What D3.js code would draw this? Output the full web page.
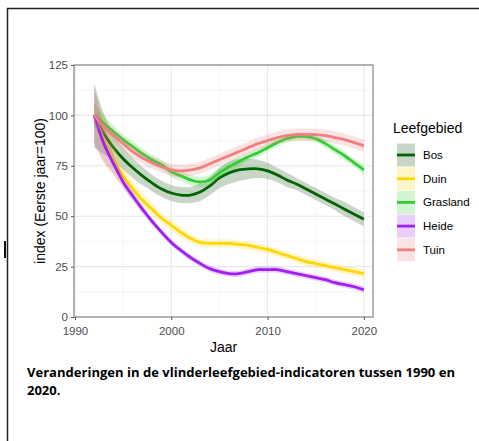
<!DOCTYPE html>
<html><head><meta charset="utf-8">
<script src="https://cdn.jsdelivr.net/npm/d3@7"></script>
<style>body{margin:0;background:#fff}svg{display:block}</style>
</head><body>
<script>
const years = d3.range(1992, 2021);
const seriesNames = ["Bos","Duin","Grasland","Heide","Tuin"];
const bos      = [100,91,84,78.5,74,70,66.5,63.5,61.5,60.5,60.5,62,65,69,71.5,73,73.5,73.5,72.5,70.5,68,66,63.5,61,58.5,56,53.5,51,48.5];
const duin     = [100,88,78,70,63.5,58,53.5,49,45.5,42,39,37,36.5,36.5,36.5,36,35.5,34.5,33.5,32,30.5,29,27.5,26.5,25.5,24.5,23.5,22.5,21.5];
const grasland = [100,96,92,88,84.5,81,78,75.5,72,70,68,67,68,71.5,74.5,77,79.5,81.5,84,86.5,88.5,89.5,89.5,88.5,86,83,80,76.5,73];
const heide    = [100,86,76,67,60,53.5,47.5,42,37,33,29.5,26.5,24,22.5,21.5,21.5,22.5,23.5,23.5,23.5,22.5,21.5,20.5,19.5,18.5,17,16,15,13.5];
const tuin     = [100,94.5,90,86,82,79,76.5,74.5,73,72.5,73,74,76,78,80,82,84,86,87.5,89,90,90.5,90.5,90.5,90,89,88,86.5,85];
// half widths of the confidence bands
const bosSe      = [16,10,7,5.5,5,4.5,4,4,4,4,4,4.5,4.5,5,5.5,5.5,5,4.5,4,3.5,3.5,3,3,3,3,3,3.5,3.5,3.5];
const duinSe     = [12,12,8,5,4,3.5,3,2.5,2.5,2.5,2,2,2,2,2,2,2,2,2,2,2,2,2,2,2,2,2,2,2];
const graslandSe = [6,4,3,2.5,2.5,2.5,2.5,2.5,2.5,2.5,2.5,2.5,2.5,2.5,2.5,2.5,2,2,2,2,2,2,2,2,2,2,2,2,2.5];
const heideSe    = [14,9,5,3,2.5,2,1.5,1.5,1.5,1.5,1.5,1.5,1.5,1.5,1.5,1.5,1.5,1.5,1.5,1.5,1.5,1.5,1.5,1.5,1.5,1.5,1.5,1.5,1.5];
const tuinSe     = [5,3.5,3,3,3,3,3,3,3,3,3,3,3,3,3,3,3,3,3,3,3,3,3,3,3,3,3,3,3];
const xTicks = [1990,2000,2010,2020];
const yTicks = [0,25,50,75,100,125];

const lineColors = ["#006400","#FFD700","#32CD32","#A020F0","#F08080"];
const bandColors = ["#5f8a5f","#FFD700","#32CD32","#A020F0","#F08080"];
const bandOpac   = [0.35,0.22,0.22,0.22,0.22];
const vals = [bos,duin,grasland,heide,tuin];
const ses = [bosSe,duinSe,graslandSe,heideSe,tuinSe];
const FONT = "'Liberation Sans', Arial, sans-serif";

const W=479,H=441;
const svg = d3.select("body").append("svg").attr("width",W).attr("height",H);
svg.append("rect").attr("width",W).attr("height",H).attr("fill","#fff");
// outer frame
svg.append("path").attr("d","M7.5,"+(H+5)+"V8.5H"+(W+5)).attr("fill","none").attr("stroke","#222").attr("stroke-width",1.5);
svg.append("line").attr("x1",5).attr("x2",5).attr("y1",241).attr("y2",258).attr("stroke","#111").attr("stroke-width",2);

const L=74,R=373,T=65,B=317;
const x = d3.scaleLinear().domain([1989.9,2020.95]).range([L,R]);
const y = d3.scaleLinear().domain([0,125]).range([B,T]);
const g = svg.append("g");
// grid
[1995,2005,2015].forEach(v=>g.append("line").attr("x1",x(v)).attr("x2",x(v)).attr("y1",T).attr("y2",B).attr("stroke","#f3f3f3").attr("stroke-width",0.8));
[12.5,37.5,62.5,87.5,112.5].forEach(v=>g.append("line").attr("x1",L).attr("x2",R).attr("y1",y(v)).attr("y2",y(v)).attr("stroke","#f3f3f3").attr("stroke-width",0.8));
xTicks.forEach(v=>g.append("line").attr("x1",x(v)).attr("x2",x(v)).attr("y1",T).attr("y2",B).attr("stroke","#e8e8e8").attr("stroke-width",1.1));
yTicks.forEach(v=>g.append("line").attr("x1",L).attr("x2",R).attr("y1",y(v)).attr("y2",y(v)).attr("stroke","#e8e8e8").attr("stroke-width",1.1));

const area = d3.area().x((d,i)=>x(years[i])).y0(d=>y(d[0])).y1(d=>y(d[1])).curve(d3.curveCatmullRom);
const line = d3.line().x((d,i)=>x(years[i])).y(d=>y(d)).curve(d3.curveCatmullRom);
vals.forEach((s,k)=>{
  const band = s.map((v,i)=>[v-ses[k][i], v+ses[k][i]]);
  g.append("path").attr("d",area(band)).attr("fill",bandColors[k]).attr("fill-opacity",bandOpac[k]);
  g.append("path").attr("d",line(s)).attr("fill","none").attr("stroke",lineColors[k]).attr("stroke-width",2.8);
});
g.append("rect").attr("x",L).attr("y",T).attr("width",R-L).attr("height",B-T).attr("fill","none").attr("stroke","#888").attr("stroke-width",1.2);

// axes
const xa = svg.append("g").attr("transform","translate(0,"+B+")").call(d3.axisBottom(x).tickValues(xTicks).tickSize(3).tickFormat(d3.format("d")));
const ya = svg.append("g").attr("transform","translate("+L+",0)").call(d3.axisLeft(y).tickValues(yTicks).tickSize(3));
[xa,ya].forEach(a=>{a.select(".domain").remove();a.selectAll("line").attr("stroke","#555");
  a.selectAll("text").attr("fill","#4d4d4d").style("font-family",FONT).style("font-size","11.5px");});
xa.selectAll("text").attr("dy","1.05em");

svg.append("text").attr("x",(L+R)/2).attr("y",352).attr("text-anchor","middle").style("font-family",FONT).style("font-size","14px").text("Jaar");
svg.append("text").attr("transform","translate(45,"+((T+B)/2)+") rotate(-90)").attr("text-anchor","middle").style("font-family",FONT).style("font-size","14px").text("index (Eerste jaar=100)");

// legend
const lg = svg.append("g");
lg.append("text").attr("x",393).attr("y",133).style("font-family",FONT).style("font-size","14px").text("Leefgebied");
seriesNames.forEach((n,k)=>{
  const cy = 155 + k*23.7;
  lg.append("rect").attr("x",397).attr("y",cy-11.5).attr("width",18).attr("height",23).attr("fill",bandColors[k]).attr("fill-opacity",bandOpac[k]);
  lg.append("line").attr("x1",397).attr("x2",415).attr("y1",cy).attr("y2",cy).attr("stroke",lineColors[k]).attr("stroke-width",2.8);
  lg.append("text").attr("x",423).attr("y",cy+4).style("font-family",FONT).style("font-size","11.5px").text(n);
});

// caption
svg.append("text").attr("x",27).attr("y",377).attr("textLength",428).attr("lengthAdjust","spacingAndGlyphs")
  .style("font-family","'Open Sans', sans-serif").style("font-weight","bold").style("font-size","13px")
  .text("Veranderingen in de vlinderleefgebied-indicatoren tussen 1990 en");
svg.append("text").attr("x",27).attr("y",395)
  .style("font-family","'Open Sans', sans-serif").style("font-weight","bold").style("font-size","13px").text("2020.");
</script>
</body></html>
